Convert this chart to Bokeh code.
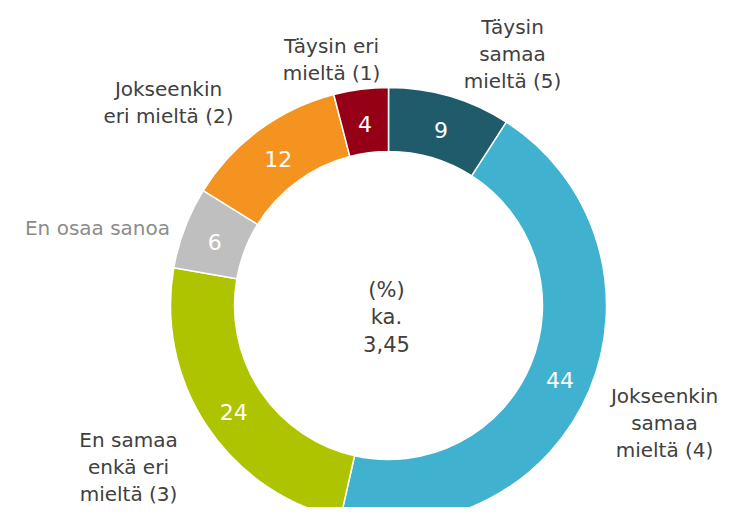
import math
from bokeh.plotting import figure
from bokeh.models import Range1d, ColumnDataSource
from bokeh.embed import file_html
from bokeh.resources import INLINE
from bokeh.core.properties import value

# ---- data ----
categories = ["Täysin\nsamaa\nmieltä (5)", "Jokseenkin\nsamaa\nmieltä (4)",
              "En samaa\nenkä eri\nmieltä (3)", "En osaa sanoa",
              "Jokseenkin\neri mieltä (2)", "Täysin eri\nmieltä (1)"]
values = [9, 44, 24, 6, 12, 4]
colors = ["#1F5B6B", "#40B1CE", "#AFC400", "#BFBFBF", "#F59321", "#960016"]
center_text = "(%)\nka.\n3,45"

# ---- layout (reference pixel coordinates: label centre x, first baseline y) ----
label_pos = [(512, 26), (664, 395), (128, 439), (97, 227), (168, 88), (331, 45)]
label_colors = ["#404040", "#404040", "#404040", "#8C8C8C", "#404040", "#404040"]
CX, CY = 388, 305
R_OUT, R_IN = 218, 154
LINE_H = 27
FONT = "DejaVu Sans"

def ty(ref_y):
    return CY - ref_y

def tx(ref_x):
    return ref_x - CX

total = sum(values)
starts, ends, mids = [], [], []
cum = 0
for v in values:
    a0 = math.pi / 2 - 2 * math.pi * cum / total
    cum += v
    a1 = math.pi / 2 - 2 * math.pi * cum / total
    starts.append(a0)
    ends.append(a1)
    mids.append((a0 + a1) / 2)

W, H = 719, 507
p = figure(width=W, height=H, output_backend="svg", toolbar_location=None,
           x_range=Range1d(tx(0), tx(W)), y_range=Range1d(ty(H), ty(0)),
           min_border=0, outline_line_color=None)
p.axis.visible = False
p.grid.visible = False
p.background_fill_color = "white"
p.border_fill_color = "white"

src = ColumnDataSource(dict(start=starts, end=ends, color=colors))
p.annular_wedge(x=0, y=0, inner_radius=R_IN, outer_radius=R_OUT,
                start_angle="start", end_angle="end", direction="clock",
                fill_color="color", line_color="white", line_width=1.5, source=src)

# value labels inside the ring
r_mid = (R_IN + R_OUT) / 2
vx = [r_mid * math.cos(a) for a in mids]
vy = [r_mid * math.sin(a) - 3 for a in mids]
p.text(x=vx, y=vy, text=[str(v) for v in values], text_color="white",
       text_font=value(FONT), text_font_size="22px",
       text_align="center", text_baseline="middle")

# category labels outside
lx, ly, lt, lc = [], [], [], []
for lab, (px, py), col in zip(categories, label_pos, label_colors):
    for i, line in enumerate(lab.split("\n")):
        lx.append(tx(px))
        ly.append(ty(py + i * LINE_H))
        lt.append(line)
        lc.append(col)
p.text(x=lx, y=ly, text=lt, text_color=lc, text_font=value(FONT),
       text_font_size="20px", text_align="center", text_baseline="alphabetic")

# centre text
cx_, cy_, ct = [], [], []
for i, line in enumerate(center_text.split("\n")):
    cx_.append(tx(386))
    cy_.append(ty(289 + i * LINE_H))
    ct.append(line)
p.text(x=cx_, y=cy_, text=ct, text_color="#404040", text_font=value(FONT),
       text_font_size="21px", text_align="center", text_baseline="alphabetic")

open("out.html", "w").write(file_html(p, INLINE))
